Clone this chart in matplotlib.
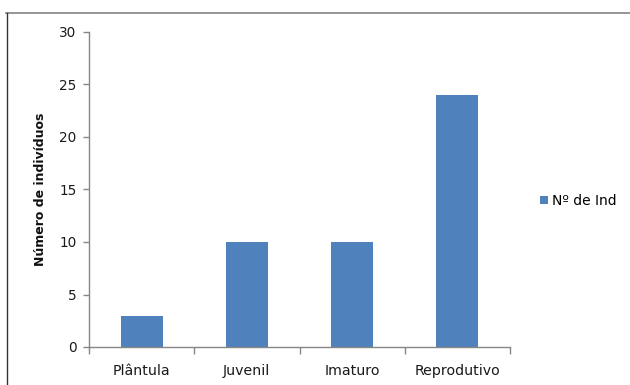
import matplotlib
matplotlib.use("Agg")
import matplotlib.pyplot as plt
from matplotlib.lines import Line2D
from matplotlib.patches import Patch

categories = ["Plântula", "Juvenil", "Imaturo", "Reprodutivo"]
values = [3, 10, 10, 24]
series_name = "Nº de Ind"
yticks = [0, 5, 10, 15, 20, 25, 30]

W, H = 630, 385
fig = plt.figure(figsize=(W / 100, H / 100), dpi=100)
fig.patch.set_facecolor("white")

# chart-area frame (clipped by image edges)
fig.add_artist(Line2D([6 / W, 1.0], [1 - 12.5 / H, 1 - 12.5 / H], transform=fig.transFigure, color="#8c8c8c", lw=1.3))
fig.add_artist(Line2D([6.5 / W, 6.5 / W], [0, 1 - 12.5 / H], transform=fig.transFigure, color="#333333", lw=1.0))

ax = fig.add_axes([89 / W, 1 - 347 / H, (510 - 89) / W, (347 - 32) / H])
x = list(range(len(categories)))
bar_color = "#4F81BD"
ax.bar(x, values, width=0.4, color=bar_color, zorder=2)
ax.set_xlim(-0.5, len(categories) - 0.5)
ax.set_ylim(0, 30)
ax.set_yticks(yticks)
ax.set_yticklabels([str(t) for t in yticks])
ax.set_xticks([i - 0.5 for i in range(len(categories) + 1)], minor=False)
ax.set_xticklabels([""] * (len(categories) + 1))
ax.set_xticks(x, minor=True)
ax.set_xticklabels(categories, minor=True)
ax.tick_params(axis="x", which="minor", length=0, pad=12, labelsize=10.2, labelcolor="#1a1a1a")
ax.tick_params(axis="x", which="major", length=5, width=1, color="#868686", direction="out")
ax.tick_params(axis="y", length=4, width=1, color="#868686", direction="out", labelsize=9.8, labelcolor="#1a1a1a", pad=5)

for s in ["top", "right"]:
    ax.spines[s].set_visible(False)
for s in ["left", "bottom"]:
    ax.spines[s].set_color("#868686")
    ax.spines[s].set_linewidth(1.0)

ax.set_ylabel("Número de indivíduos", fontsize=9, fontweight="bold", color="#111111", labelpad=9)

handles = [Patch(facecolor=bar_color, edgecolor="none", label=series_name)]
fig.legend(handles=handles, loc="center left", bbox_to_anchor=(540 / W, 1 - 201 / H), frameon=False,
           fontsize=10, handlelength=0.55, handleheight=0.55, handletextpad=0.35, borderaxespad=0,
           borderpad=0)

fig.savefig("out.png", dpi=100)
